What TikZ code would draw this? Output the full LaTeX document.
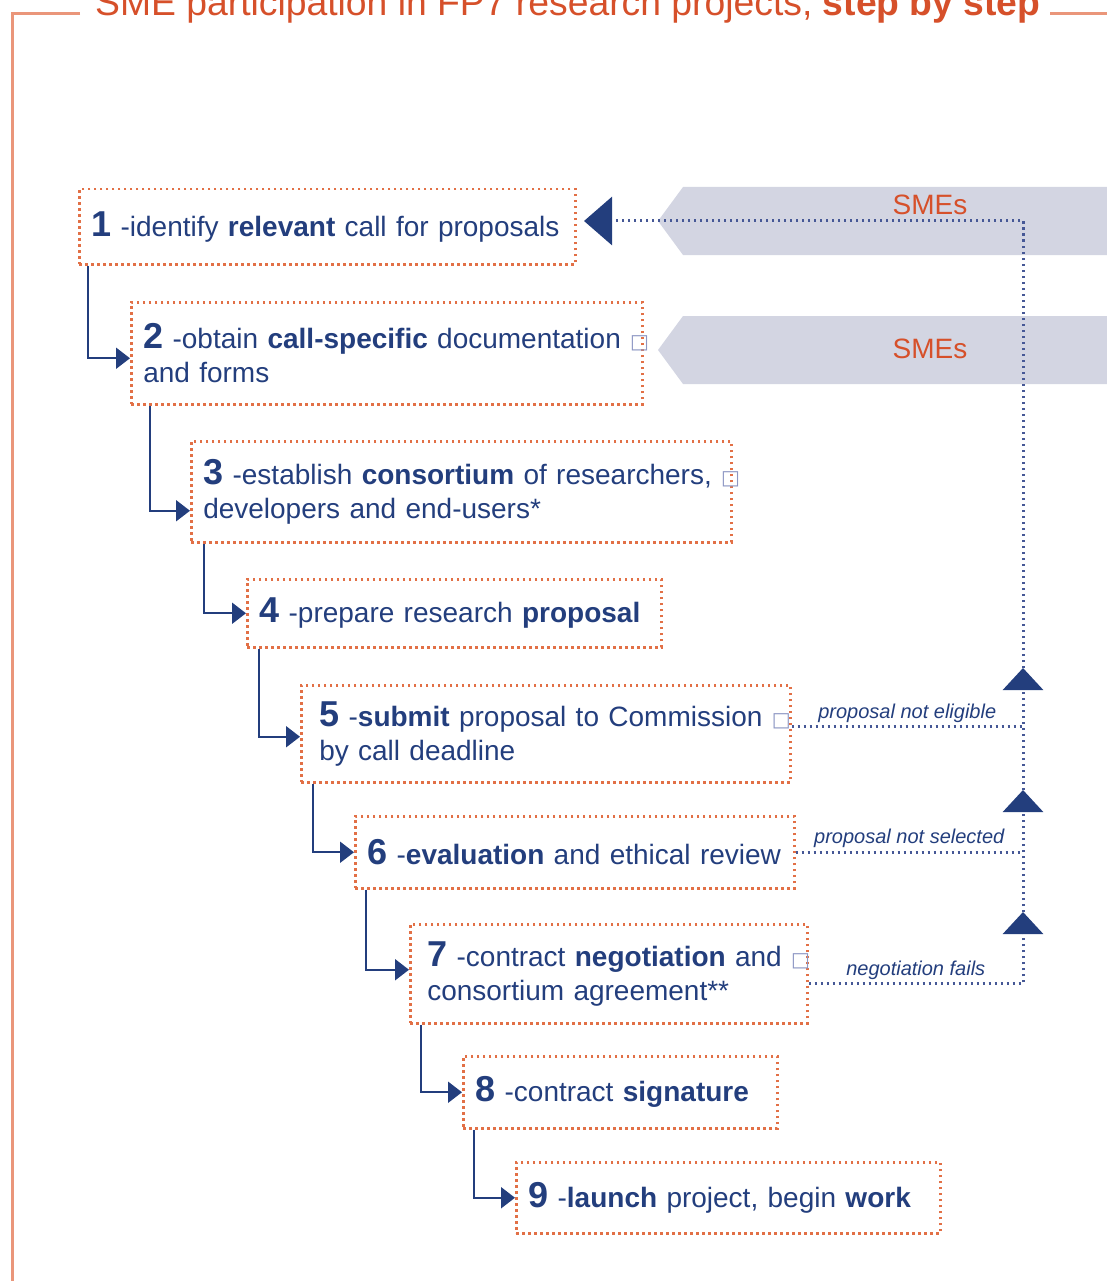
\documentclass[tikz,border=0pt]{standalone}
\usepackage{fontspec}
\setmainfont{Liberation Sans}
\newfontfamily\symfont{DejaVu Sans}
\usepackage{tikz}
\usetikzlibrary{arrows.meta,positioning}
\definecolor{navy}{RGB}{35,62,125}
\definecolor{railc}{RGB}{70,88,150}
\definecolor{boxc}{RGB}{226,112,70}
\definecolor{orng}{RGB}{214,80,42}
\definecolor{framec}{RGB}{234,150,122}
\definecolor{bandc}{RGB}{211,213,226}
\definecolor{sqc}{RGB}{140,150,195}
\newcommand{\num}[1]{\textbf{\fontsize{36}{34}\selectfont #1}\ }
\newcommand{\sqbox}{\makebox[0pt][l]{\ {\symfont\color{sqc}\fontsize{20}{20}\selectfont □}}}

\begin{document}
\begin{tikzpicture}[x=1pt,y=-1pt,
  stepbox/.style={draw=boxc,line width=2.5pt,dash pattern=on 2.5pt off 3.5pt,anchor=north west,
    inner xsep=12pt,inner ysep=0pt,align=left,text=navy,font=\fontsize{28}{34}\selectfont},
  ar/.style={draw=navy,line width=2pt,-{Triangle[length=14pt,width=21pt]}},
  dl/.style={draw=railc,line width=3pt,dash pattern=on 2.5pt off 3.5pt},
  tipup/.style={-{Triangle[length=22pt,width=40pt,color=navy]}},
  lbl/.style={font=\itshape\fontsize{20}{20}\selectfont,text=navy,inner sep=3pt},
  sme/.style={font=\fontsize{28}{28}\selectfont,text=orng},
  frame/.style={draw=framec,line width=3pt}]
\useasboundingbox (0,0) rectangle (1107,1281);

% title and frame
\node[anchor=base west,inner sep=0pt,text=orng,font=\fontsize{37.3}{37}\selectfont] (title) at (95,16)
  {SME participation in FP7 research projects, \textbf{step by step}};
\draw[frame] (80,14) -- (12,14) -- (12,1281);
\draw[frame] (1050,14) -- (1107,14);

% SME bands
\fill[bandc] (683,187) -- (1107,187) -- (1107,255) -- (683,255) -- (658,221) -- cycle;
\fill[bandc] (683,316) -- (1107,316) -- (1107,384) -- (683,384) -- (658,350) -- cycle;
\node[sme] (sme1) at (930,205) {SMEs};
\node[sme] (sme2) at (930,349) {SMEs};

% steps
\node[stepbox,text width=472pt,minimum height=75pt] (s1) at (78,188)
  {\num{1}-identify \textbf{relevant} call for proposals};
\node[stepbox,text width=487pt,minimum height=102pt] (s2) at (130,301)
  {\num{2}-obtain \textbf{call-specific} documentation\sqbox\\and forms};
\node[stepbox,text width=516pt,minimum height=101pt] (s3) at (190,440)
  {\num{3}-establish \textbf{consortium} of researchers,\sqbox\\developers and end-users*};
\node[stepbox,text width=390pt,minimum height=68pt] (s4) at (246,578)
  {\num{4}-prepare research \textbf{proposal}};
\node[stepbox,text width=453pt,minimum height=97pt,inner xsep=18pt] (s5) at (300,684)
  {\num{5}-\textbf{submit} proposal to Commission\sqbox\\by call deadline};
\node[stepbox,text width=415pt,minimum height=72pt] (s6) at (354,815)
  {\num{6}-\textbf{evaluation} and ethical review};
\node[stepbox,text width=363pt,minimum height=99pt,inner xsep=17pt] (s7) at (409,923)
  {\num{7}-contract \textbf{negotiation} and\sqbox\\consortium agreement**};
\node[stepbox,text width=290pt,minimum height=72pt] (s8) at (462,1055)
  {\num{8}-contract \textbf{signature}};
\node[stepbox,text width=400pt,minimum height=71pt] (s9) at (515,1161)
  {\num{9}-\textbf{launch} project, begin \textbf{work}};

% flow
\draw[ar] ([xshift=10pt]s1.south west) |- ([yshift=-5pt]s2.west);
\draw[ar] ([xshift=20pt]s2.south west) |- ([yshift=-19pt]s3.west);
\draw[ar] ([xshift=14pt]s3.south west) |- (s4.west);
\draw[ar] ([xshift=13pt]s4.south west) |- ([yshift=-3pt]s5.west);
\draw[ar] ([xshift=13pt]s5.south west) |- (s6.west);
\draw[ar] ([xshift=12pt]s6.south west) |- ([yshift=4pt]s7.west);
\draw[ar] ([xshift=12pt]s7.south west) |- (s8.west);
\draw[ar] ([xshift=12pt]s8.south west) |- (s9.west);

% way back
\coordinate (rail) at (1023,221);
\coordinate (back) at (584,221);
\coordinate (up5) at (1023,668);
\coordinate (up6) at (1023,790);
\coordinate (up7) at (1023,912);
\coordinate (f5) at ([yshift=7pt]s5.east);
\coordinate (f6) at (s6.east);
\coordinate (f7) at ([yshift=-10pt]s7.east);
\draw[dl] (f5) -- (f5 -| rail) node[lbl,midway,above] (nel) {proposal not eligible};
\draw[dl] (f6) -- (f6 -| rail) node[lbl,midway,above] (nsel) {proposal not selected};
\draw[dl,tipup] (f7) -- (f7 -| rail) node[lbl,midway,above] (nfail) {negotiation fails} -- (up7);
\draw[dl,tipup] (up7) -- (up6);
\draw[dl,tipup] (up6) -- (up5);
\draw[dl,-{Triangle[length=28pt,width=48pt,color=navy]}] (up5) -- (rail) -- (back);
\end{tikzpicture}
\end{document}
